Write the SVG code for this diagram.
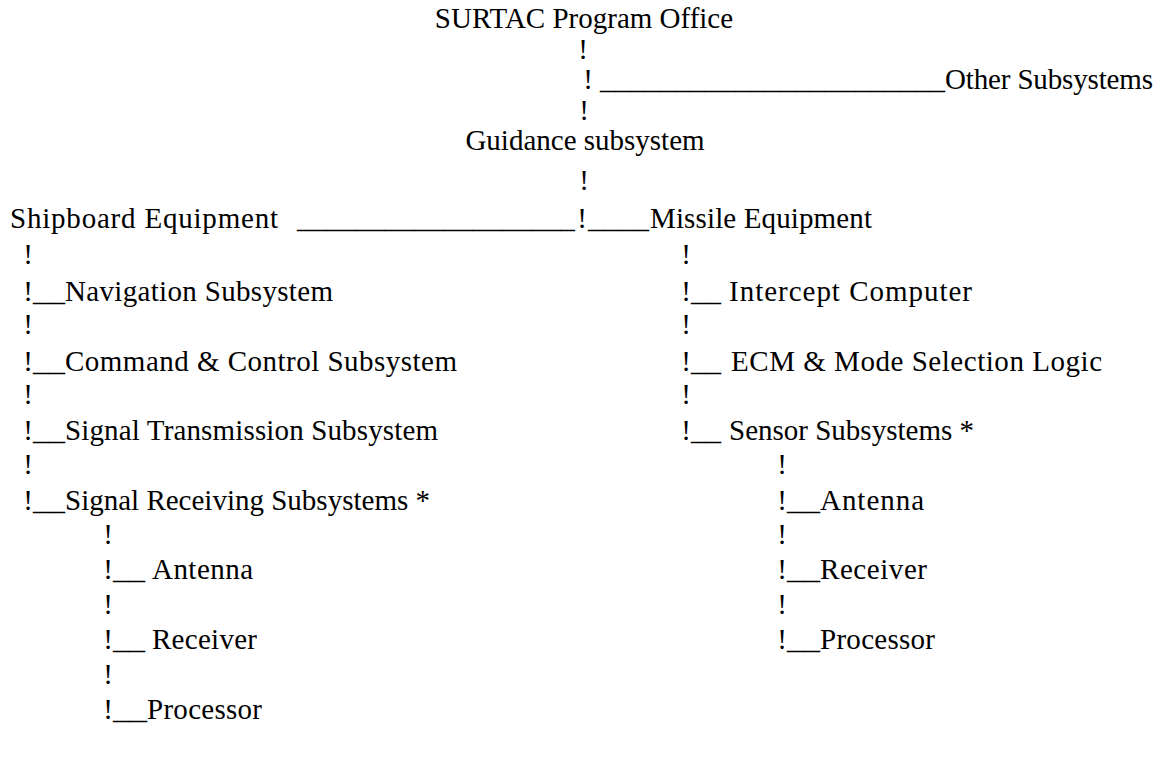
<svg xmlns="http://www.w3.org/2000/svg" width="1174" height="784" viewBox="0 0 1174 784" font-family="'Liberation Serif', 'DejaVu Serif', 'Times New Roman', serif" font-size="29">
<style>
text{fill:#000}
.b{text-anchor:middle}
</style>
<rect width="1174" height="784" fill="#fff"/>
<g id="connectors">
<text class="b" x="583" y="59">!</text>
<text class="b" x="588" y="89">!</text>
<text x="600" y="89" textLength="345" lengthAdjust="spacingAndGlyphs">_______________________</text>
<text class="b" x="584" y="120">!</text>
<text class="b" x="584" y="190">!</text>
<text x="297" y="228" textLength="278" lengthAdjust="spacingAndGlyphs">___________________</text>
<text class="b" x="582" y="228">!</text>
<text x="588" y="228" textLength="61" lengthAdjust="spacingAndGlyphs">____</text>
<text class="b" x="28" y="264">!</text>
<text class="b" x="686" y="264">!</text>
<text class="b" x="28" y="301">!</text>
<text x="33" y="301" textLength="32" lengthAdjust="spacingAndGlyphs">__</text>
<text class="b" x="686" y="301">!</text>
<text x="691" y="301" textLength="30" lengthAdjust="spacingAndGlyphs">__</text>
<text class="b" x="28" y="334">!</text>
<text class="b" x="686" y="334">!</text>
<text class="b" x="28" y="371">!</text>
<text x="33" y="371" textLength="32" lengthAdjust="spacingAndGlyphs">__</text>
<text class="b" x="686" y="371">!</text>
<text x="691" y="371" textLength="30" lengthAdjust="spacingAndGlyphs">__</text>
<text class="b" x="28" y="404">!</text>
<text class="b" x="686" y="404">!</text>
<text class="b" x="28" y="440">!</text>
<text x="33" y="440" textLength="32" lengthAdjust="spacingAndGlyphs">__</text>
<text class="b" x="686" y="440">!</text>
<text x="691" y="440" textLength="30" lengthAdjust="spacingAndGlyphs">__</text>
<text class="b" x="28" y="474">!</text>
<text class="b" x="782" y="474">!</text>
<text class="b" x="28" y="510">!</text>
<text x="33" y="510" textLength="32" lengthAdjust="spacingAndGlyphs">__</text>
<text class="b" x="782" y="510">!</text>
<text x="787" y="510" textLength="33" lengthAdjust="spacingAndGlyphs">__</text>
<text class="b" x="108" y="544">!</text>
<text class="b" x="782" y="544">!</text>
<text class="b" x="108" y="579">!</text>
<text x="113" y="579" textLength="32" lengthAdjust="spacingAndGlyphs">__</text>
<text class="b" x="782" y="579">!</text>
<text x="787" y="579" textLength="33" lengthAdjust="spacingAndGlyphs">__</text>
<text class="b" x="108" y="614">!</text>
<text class="b" x="782" y="614">!</text>
<text class="b" x="108" y="649">!</text>
<text x="113" y="649" textLength="32" lengthAdjust="spacingAndGlyphs">__</text>
<text class="b" x="782" y="649">!</text>
<text x="787" y="649" textLength="33" lengthAdjust="spacingAndGlyphs">__</text>
<text class="b" x="108" y="684">!</text>
<text class="b" x="108" y="719">!</text>
<text x="113" y="719" textLength="34" lengthAdjust="spacingAndGlyphs">__</text>
</g>
<g id="n-surtac"><text class="b" x="584" y="28">SURTAC Program Office</text></g>
<g id="n-other"><text x="945" y="89" textLength="208">Other Subsystems</text></g>
<g id="n-guidance"><text class="b" x="585" y="150">Guidance subsystem</text></g>
<g id="n-shipboard"><text x="10" y="228" textLength="268">Shipboard Equipment</text></g>
<g id="n-missile"><text x="650" y="228" textLength="222">Missile Equipment</text></g>
<g id="n-nav"><text x="65" y="301" textLength="268">Navigation Subsystem</text></g>
<g id="n-cmd"><text x="65" y="371" textLength="392">Command &amp; Control Subsystem</text></g>
<g id="n-sigtx"><text x="65" y="440" textLength="373">Signal Transmission Subsystem</text></g>
<g id="n-sigrx"><text x="65" y="510" textLength="365">Signal Receiving Subsystems *</text></g>
<g id="n-antenna-l"><text x="152" y="579" textLength="101">Antenna</text></g>
<g id="n-receiver-l"><text x="152" y="649" textLength="105">Receiver</text></g>
<g id="n-processor-l"><text x="147" y="719" textLength="115">Processor</text></g>
<g id="n-intercept"><text x="729" y="301" textLength="243">Intercept Computer</text></g>
<g id="n-ecm"><text x="731" y="371" textLength="371">ECM &amp; Mode Selection Logic</text></g>
<g id="n-sensor"><text x="729" y="440" textLength="245">Sensor Subsystems *</text></g>
<g id="n-antenna-r"><text x="820" y="510" textLength="104">Antenna</text></g>
<g id="n-receiver-r"><text x="820" y="579" textLength="107">Receiver</text></g>
<g id="n-processor-r"><text x="820" y="649" textLength="115">Processor</text></g>
</svg>
